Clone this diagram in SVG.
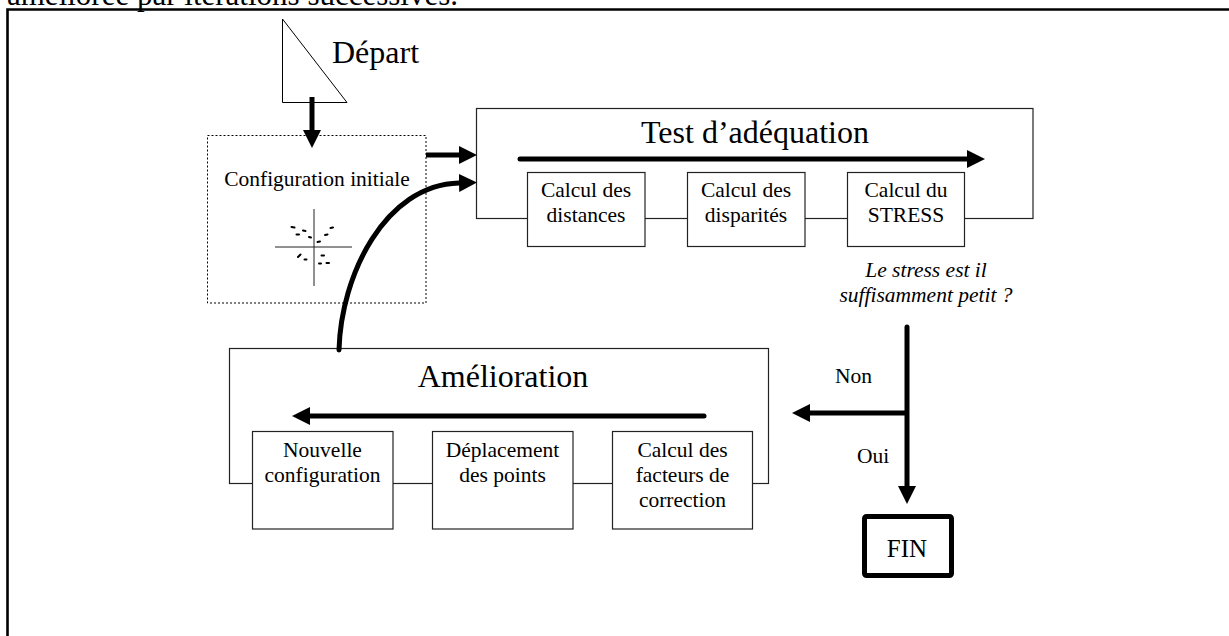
<svg xmlns="http://www.w3.org/2000/svg" width="1229" height="636" viewBox="0 0 1229 636">
  <style>
    text { font-family: "Liberation Serif", "Times New Roman", serif; fill: #000; }
    .title { font-size: 32px; text-anchor: middle; }
    .small { font-size: 21.5px; text-anchor: middle; }
    .q { font-size: 21.5px; font-style: italic; text-anchor: middle; }
    .box { fill: #fff; stroke: #222; stroke-width: 1.2; }
    .frame { fill: none; stroke: #222; stroke-width: 1.2; }
    .thick { fill: none; stroke: #000; stroke-width: 5; }
    .dot { stroke: #000; stroke-width: 2; stroke-linecap: round; }
  </style>
  <defs>
    <marker id="head" markerUnits="userSpaceOnUse" markerWidth="18" markerHeight="18" viewBox="0 0 18 18" refX="0" refY="9" orient="auto">
      <path d="M0,0 L18,9 L0,18 z" fill="#000"/>
    </marker>
  </defs>

  <rect width="1229" height="636" fill="#fff"/>

  <!-- page text above the figure, clipped by the frame -->
  <text x="7" y="5" style="font-size:31px">améliorée par itérations successives.</text>

  <!-- outer frame -->
  <path d="M7.5,645 V9.5 H1240" fill="none" stroke="#000" stroke-width="2.6"/>

  <g id="depart">
    <path d="M282.5,19 L282.5,102.5 L347,102.5 Z" fill="#fff" stroke="#000" stroke-width="1"/>
    <text x="332" y="63" style="font-size:32px">Départ</text>
  </g>

  <g id="config-initiale">
    <rect x="207.5" y="135.5" width="218.5" height="167.5" fill="none" stroke="#000" stroke-width="1" stroke-dasharray="2 2"/>
    <text class="small" x="317" y="186">Configuration initiale</text>
    <line x1="314" y1="209" x2="314" y2="286" stroke="#222" stroke-width="1"/>
    <line x1="275" y1="247" x2="352" y2="247" stroke="#222" stroke-width="1"/>
    <line class="dot" x1="291.5" y1="227" x2="294.5" y2="227.5"/>
    <line class="dot" x1="296.5" y1="234.5" x2="299" y2="234.5"/>
    <line class="dot" x1="303" y1="230.5" x2="305.5" y2="231"/>
    <line class="dot" x1="309" y1="237" x2="311" y2="237.5"/>
    <line class="dot" x1="325" y1="235" x2="327.5" y2="234.5"/>
    <line class="dot" x1="330.5" y1="228" x2="333" y2="227.5"/>
    <line class="dot" x1="317.5" y1="242" x2="320" y2="241.5"/>
    <line class="dot" x1="298" y1="257" x2="300.5" y2="254.5"/>
    <line class="dot" x1="304.5" y1="259.5" x2="306.5" y2="259.5"/>
    <line class="dot" x1="321.5" y1="255.5" x2="324" y2="255.5"/>
    <line class="dot" x1="319" y1="263.5" x2="321" y2="263.5"/>
    <line class="dot" x1="326.5" y1="263" x2="329" y2="263"/>
  </g>

  <g id="test-adequation">
    <rect class="frame" x="476.5" y="108.5" width="556.5" height="110"/>
    <text class="title" x="755" y="143">Test d’adéquation</text>
    <path class="thick" d="M520,159 H967" stroke-linecap="round" marker-end="url(#head)"/>
    <g id="calcul-distances">
      <rect class="box" x="527.5" y="172.5" width="117.5" height="74"/>
      <text class="small" x="586" y="197">Calcul des</text>
      <text class="small" x="586" y="222">distances</text>
    </g>
    <g id="calcul-disparites">
      <rect class="box" x="687.5" y="172.5" width="117.5" height="74"/>
      <text class="small" x="746" y="197">Calcul des</text>
      <text class="small" x="746" y="222">disparités</text>
    </g>
    <g id="calcul-stress">
      <rect class="box" x="847.5" y="172.5" width="117" height="74"/>
      <text class="small" x="906" y="197">Calcul du</text>
      <text class="small" x="906" y="222">STRESS</text>
    </g>
  </g>

  <g id="question">
    <text class="q" x="926" y="277">Le stress est il</text>
    <text class="q" x="926" y="302">suffisamment petit ?</text>
  </g>

  <g id="amelioration">
    <rect class="frame" x="229.5" y="348.5" width="539" height="135"/>
    <text class="title" x="503" y="387">Amélioration</text>
    <path class="thick" d="M704,416 H310" stroke-linecap="round" marker-end="url(#head)"/>
    <g id="nouvelle-config">
      <rect class="box" x="252.5" y="431.5" width="140.5" height="97.5"/>
      <text class="small" x="322.5" y="457">Nouvelle</text>
      <text class="small" x="322.5" y="482">configuration</text>
    </g>
    <g id="deplacement">
      <rect class="box" x="432.5" y="431.5" width="140.5" height="97.5"/>
      <text class="small" x="502.5" y="457">Déplacement</text>
      <text class="small" x="502.5" y="482">des points</text>
    </g>
    <g id="facteurs-correction">
      <rect class="box" x="612.5" y="431.5" width="140" height="97.5"/>
      <text class="small" x="682.5" y="457">Calcul des</text>
      <text class="small" x="682.5" y="482">facteurs de</text>
      <text class="small" x="682.5" y="507">correction</text>
    </g>
  </g>

  <g id="fin">
    <rect x="864.5" y="516.5" width="87" height="59" rx="2" fill="#fff" stroke="#000" stroke-width="5"/>
    <text x="907" y="557" style="font-size:25px" text-anchor="middle">FIN</text>
  </g>

  <g id="connectors">
    <path class="thick" d="M312,97 V130" marker-end="url(#head)"/>
    <path class="thick" d="M426,155 H459" marker-end="url(#head)"/>
    <path class="thick" d="M339,350 C341,275 385,185 459,183" stroke-width="5.5" stroke-linecap="round" marker-end="url(#head)"/>
    <path class="thick" d="M907,327 V486" stroke-linecap="round" marker-end="url(#head)"/>
    <path class="thick" d="M907,413 H810" marker-end="url(#head)"/>
    <text class="small" x="853.5" y="383">Non</text>
    <text class="small" x="873" y="463">Oui</text>
  </g>
</svg>
